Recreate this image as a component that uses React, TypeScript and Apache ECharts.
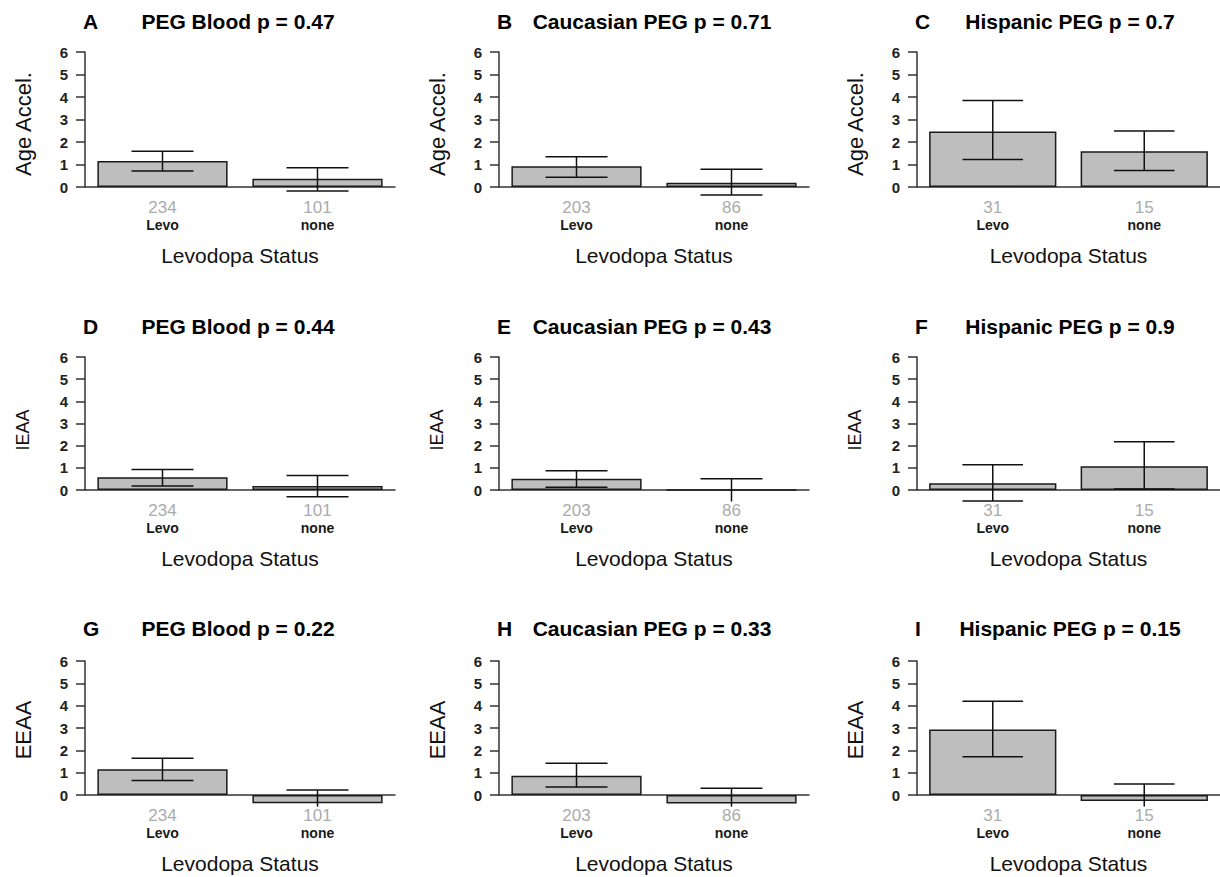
import React, { useEffect, useRef } from "react";
import * as echarts from "echarts";

// ---- data ----
const categories = ["Levo", "none"];
const panelLetters = ["A", "B", "C", "D", "E", "F", "G", "H", "I"];
const panelTitles = [
  "PEG Blood p = 0.47",
  "Caucasian PEG p = 0.71",
  "Hispanic PEG p = 0.7",
  "PEG Blood p = 0.44",
  "Caucasian PEG p = 0.43",
  "Hispanic PEG p = 0.9",
  "PEG Blood p = 0.22",
  "Caucasian PEG p = 0.33",
  "Hispanic PEG p = 0.15",
];
const rowYNames = ["Age Accel.", "IEAA", "EEAA"];
const xAxisTitle = "Levodopa Status";
// sample sizes per column (PEG Blood, Caucasian PEG, Hispanic PEG)
const columnCounts = [
  [234, 101],
  [203, 86],
  [31, 15],
];
// bar means per panel [Levo, none]
const means = [
  [1.16, 0.37],
  [0.92, 0.19],
  [2.47, 1.59],
  [0.57, 0.18],
  [0.51, 0.0],
  [0.3, 1.07],
  [1.15, -0.37],
  [0.86, -0.38],
  [2.93, -0.27],
];
// error bar upper ends
const upperEnds = [
  [1.59, 0.86],
  [1.35, 0.79],
  [3.84, 2.49],
  [0.93, 0.65],
  [0.87, 0.51],
  [1.14, 2.18],
  [1.65, 0.22],
  [1.42, 0.3],
  [4.2, 0.49],
];
// error bar lower ends
const lowerEnds = [
  [0.71, -0.18],
  [0.43, -0.36],
  [1.22, 0.73],
  [0.18, -0.3],
  [0.12, -0.55],
  [-0.5, 0.05],
  [0.65, -0.96],
  [0.36, -1.06],
  [1.71, -1.03],
];
const yTicks = [0, 1, 2, 3, 4, 5, 6];
const plotFloor = -0.52; // lower edge of the plotting region (error bars are cut there)

// ---- layout / style ----
const FONT = "'Liberation Sans', Arial, Helvetica, sans-serif";
const colLeft = [85, 499, 917];
const rowTop = [52, 357, 661];
const rowHeight = [135, 133, 134];
const gridWidth = 310;
const titleY = [21, 326, 628];
const yNameY = [124, 430, 730];
const yNameSize = [22, 18, 22];
const AXIS_COLOR = "#333333";

function buildOption() {
  const grid: any[] = [];
  const xAxis: any[] = [];
  const yAxis: any[] = [];
  const series: any[] = [];
  const graphic: any[] = [];

  for (let p = 0; p < 9; p++) {
    const row = Math.floor(p / 3);
    const col = p % 3;
    const left = colLeft[col];
    const top = rowTop[row];
    grid.push({ left, top, width: gridWidth, height: rowHeight[row], containLabel: false });

    const counts = columnCounts[col];
    xAxis.push({
      type: "category",
      gridIndex: p,
      data: categories,
      axisTick: { show: false },
      axisLine: { show: true, onZero: true, lineStyle: { color: AXIS_COLOR, width: 1.5 } },
      axisLabel: {
        margin: 12,
        interval: 0,
        formatter: (v: string, i: number) => `{n|${counts[i]}}\n{c|${v}}`,
        rich: {
          n: { fontFamily: FONT, fontSize: 17, color: "#ababab", lineHeight: 17 },
          c: { fontFamily: FONT, fontSize: 14, fontWeight: "bold", color: "#1a1a1a", lineHeight: 17 },
        },
      },
      name: xAxisTitle,
      nameLocation: "middle",
      nameGap: 58,
      nameTextStyle: { fontFamily: FONT, fontSize: 21, color: "#111111" },
    });

    yAxis.push({
      type: "value",
      gridIndex: p,
      min: yTicks[0],
      max: yTicks[yTicks.length - 1],
      interval: 1,
      splitLine: { show: false },
      axisLine: { show: true, lineStyle: { color: AXIS_COLOR, width: 1.5 } },
      axisTick: { show: true, length: 9, lineStyle: { color: AXIS_COLOR, width: 1.5 } },
      axisLabel: {
        margin: 17,
        fontFamily: FONT,
        fontSize: 15,
        fontWeight: "bold",
        color: "#222222",
      },
    });

    series.push({
      type: "bar",
      xAxisIndex: p,
      yAxisIndex: p,
      data: means[p],
      barCategoryGap: "16%",
      clip: false,
      itemStyle: { color: "#bebebe", borderColor: "#1a1a1a", borderWidth: 1.5 },
      emphasis: { disabled: true },
      silent: true,
    });

    series.push({
      type: "custom",
      xAxisIndex: p,
      yAxisIndex: p,
      clip: false,
      silent: true,
      z: 5,
      encode: { x: 0, y: [1, 2] },
      data: categories.map((_, i) => [i, lowerEnds[p][i], upperEnds[p][i]]),
      renderItem: (params: any, api: any) => {
        const xi = api.value(0);
        const lo = api.value(1);
        const hi = api.value(2);
        const pTop = api.coord([xi, hi]);
        const pBot = api.coord([xi, lo]);
        const floorY = api.coord([xi, plotFloor])[1];
        const half = api.size([1, 0])[0] * 0.2;
        const x = pTop[0];
        const yBot = Math.min(pBot[1], floorY);
        const style = { stroke: "#111111", lineWidth: 1.5 };
        const children: any[] = [
          { type: "line", shape: { x1: x, y1: pTop[1], x2: x, y2: yBot }, style },
          { type: "line", shape: { x1: x - half, y1: pTop[1], x2: x + half, y2: pTop[1] }, style },
        ];
        if (pBot[1] <= floorY) {
          children.push({
            type: "line",
            shape: { x1: x - half, y1: pBot[1], x2: x + half, y2: pBot[1] },
            style,
          });
        }
        return { type: "group", children };
      },
    });

    // panel letter
    graphic.push({
      type: "text",
      x: left - 2,
      y: titleY[row],
      style: {
        text: panelLetters[p],
        font: `bold 21px ${FONT}`,
        fill: "#000000",
        align: "left",
        verticalAlign: "middle",
        textAlign: "left",
        textVerticalAlign: "middle",
      },
    });
    // panel title
    graphic.push({
      type: "text",
      x: left + 153,
      y: titleY[row],
      style: {
        text: panelTitles[p],
        font: `bold 21px ${FONT}`,
        fill: "#000000",
        align: "center",
        verticalAlign: "middle",
        textAlign: "center",
        textVerticalAlign: "middle",
      },
    });
    // y-axis name
    graphic.push({
      type: "text",
      x: left - 62,
      y: yNameY[row],
      rotation: Math.PI / 2,
      style: {
        text: rowYNames[row],
        font: `${yNameSize[row]}px ${FONT}`,
        fill: "#111111",
        align: "center",
        verticalAlign: "middle",
        textAlign: "center",
        textVerticalAlign: "middle",
      },
    });
  }

  return {
    animation: false,
    backgroundColor: "#ffffff",
    grid,
    xAxis,
    yAxis,
    series,
    graphic: { elements: graphic },
  };
}

export default function App() {
  const ref = useRef<HTMLDivElement>(null);
  useEffect(() => {
    if (!ref.current) return;
    const chart = echarts.init(ref.current, undefined, { renderer: "svg" });
    chart.setOption(buildOption() as any);
    return () => chart.dispose();
  }, []);
  return (
    <div
      ref={ref}
      style={{ position: "absolute", left: 0, top: 0, width: 1220, height: 877, background: "#fff" }}
    />
  );
}
